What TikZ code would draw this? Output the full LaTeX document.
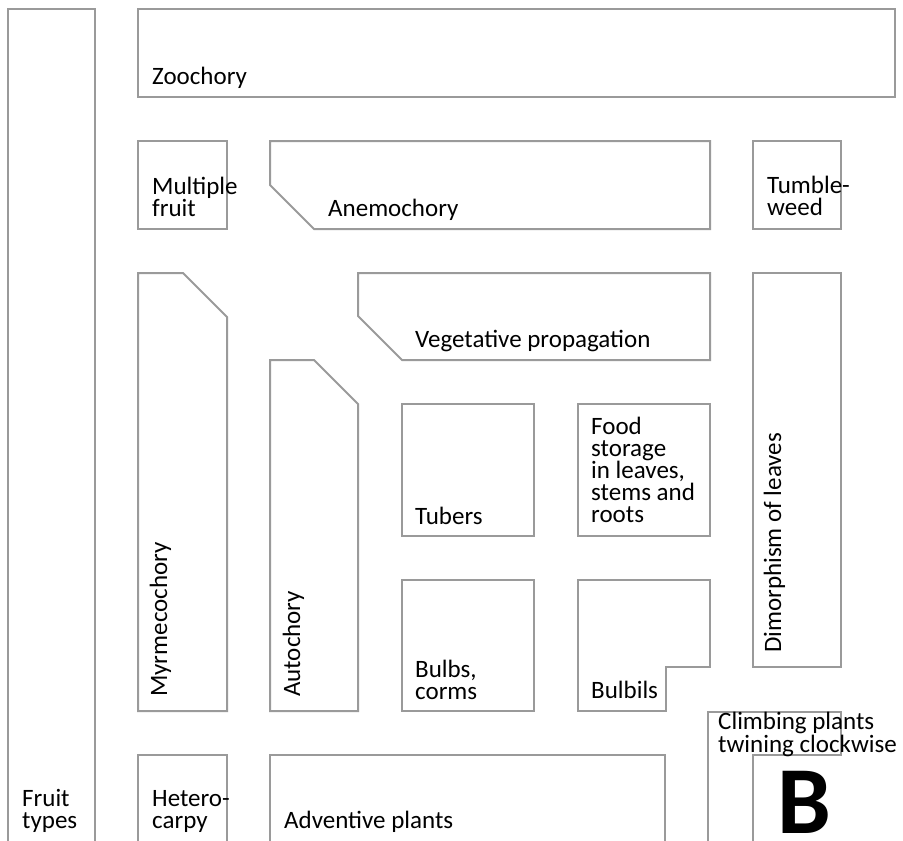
\documentclass[tikz,border=0pt]{standalone}
\usepackage{fontspec}
\setmainfont{Carlito}
\definecolor{edgegray}{HTML}{9A9A9A}
\begin{document}
\begin{tikzpicture}[x=1pt,y=-1pt,
  zone/.style={draw=edgegray,line width=2pt},
  lbl/.style={anchor=base west,inner sep=0pt,align=left,font=\fontsize{25}{22}\selectfont},
  vlbl/.style={lbl,rotate=90}]
  \useasboundingbox (0,0) rectangle (903,841);
  % outer zones, open at the bottom
  \draw[zone] (8,841) |- (95,9) -- (95,841);
  \draw[zone] (138,841) |- (227,755) -- (227,841);
  \draw[zone] (270,841) |- (665,755) -- (665,841);
  \draw[zone] (708,841) -- (708,712) -- (841,712) -- (841,755) -- (753,755) -- (753,841);
  % closed zones
  \draw[zone] (138,9) rectangle (895,97);
  \draw[zone] (138,141) rectangle (227,229);
  \draw[zone] (270,141) -- (710,141) -- (710,229) -- (314,229) -- (270,185) -- cycle;
  \draw[zone] (753,141) rectangle (841,229);
  \draw[zone] (138,273) -- (183,273) -- (227,317) -- (227,711) -- (138,711) -- cycle;
  \draw[zone] (358,273) -- (710,273) -- (710,360) -- (402,360) -- (358,316) -- cycle;
  \draw[zone] (753,273) rectangle (841,667);
  \draw[zone] (270,360) -- (314,360) -- (358,404) -- (358,711) -- (270,711) -- cycle;
  \draw[zone] (402,404) rectangle (534,536);
  \draw[zone] (578,404) rectangle (710,536);
  \draw[zone] (402,580) rectangle (534,711);
  \draw[zone] (578,580) -- (710,580) -- (710,667) -- (666,667) -- (666,711) -- (578,711) -- cycle;
  % labels (multi-line ones sit on their last baseline)
  \node[lbl] (zoo) at (152,84) {Zoochory};
  \node[lbl] (mult) at (152,216) {Multiple\\fruit};
  \node[lbl] (anemo) at (328,216) {Anemochory};
  \node[lbl] (tumble) at (767,215) {Tumble-\\weed};
  \node[lbl] (veg) at (415,347) {Vegetative propagation};
  \node[lbl] (tubers) at (415,524) {Tubers};
  \node[lbl] (food) at (591,522) {Food\\storage\\in leaves,\\stems and\\roots};
  \node[lbl] (bulbs) at (415,699) {Bulbs,\\corms};
  \node[lbl] (bulbils) at (591,698) {Bulbils};
  \node[vlbl] (myrm) at (167,697) {Myrmecochory};
  \node[vlbl] (auto) at (300,697) {Autochory};
  \node[vlbl] (dimorph) at (781,653) {Dimorphism of leaves};
  \node[lbl] (fruit) at (22,828) {Fruit\\types};
  \node[lbl] (hetero) at (152,828) {Hetero-\\carpy};
  \node[lbl] (advent) at (284,828) {Adventive plants};
  \node[lbl,font=\fontsize{25}{19}\selectfont] (climb) at (718,752) {Climbing plants\\twining clockwise};
  \node[lbl,font=\fontsize{96}{96}\selectfont\bfseries] (panel) at (777,833) {B};
\end{tikzpicture}
\end{document}
